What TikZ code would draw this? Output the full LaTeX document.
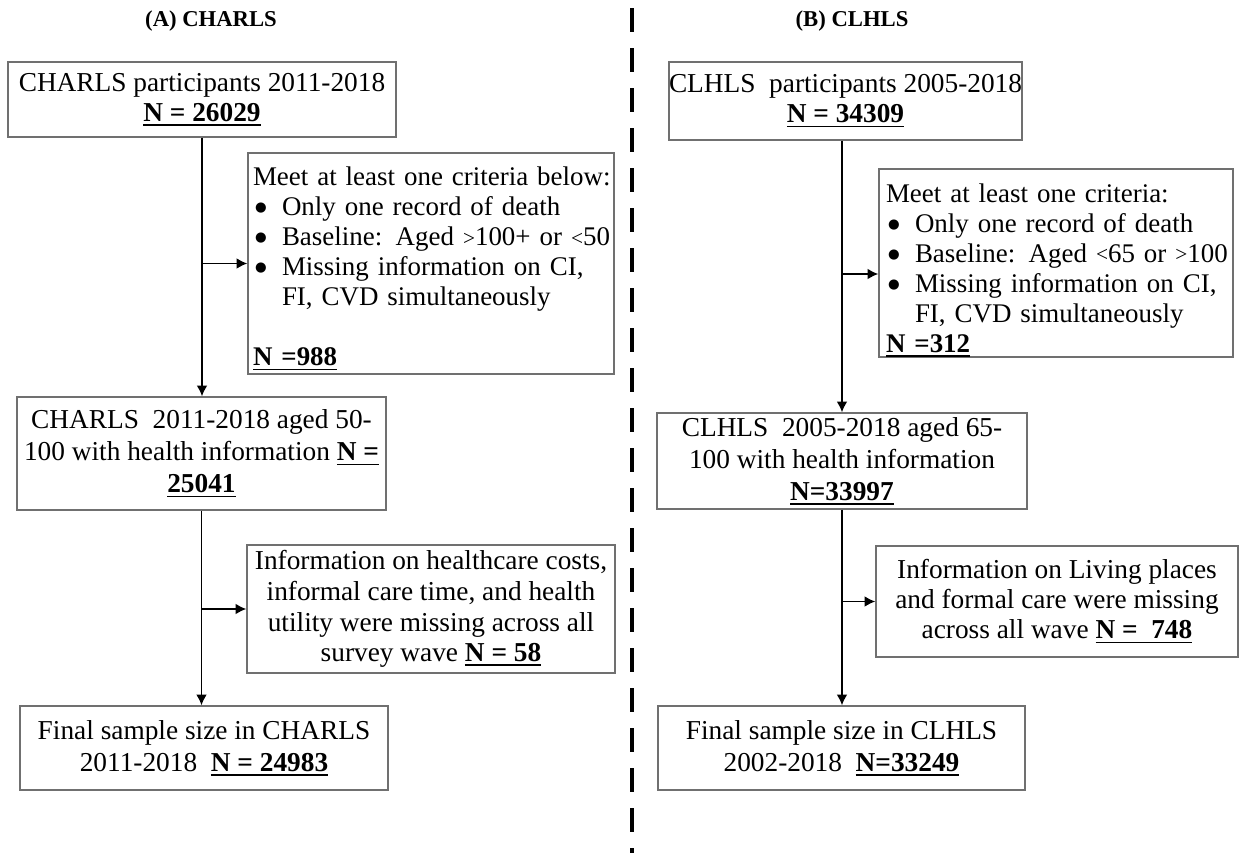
\documentclass[tikz,border=0pt]{standalone}
\usepackage{fontspec}
\setmainfont{Liberation Serif}
\newfontfamily\dejavu{DejaVu Sans}
\usetikzlibrary{arrows.meta}
\definecolor{boxgray}{HTML}{707070}
\newcommand\un[1]{\leavevmode\begingroup\bfseries\setbox0=\hbox{#1}\rlap{\rule[-3.4pt]{\wd0}{1.3pt}}\box0\endgroup}
\newcommand\bul{\raisebox{3pt}{\dejavu\fontsize{10pt}{10pt}\selectfont ●}}
\newcommand\bitem[1]{\mbox{\makebox[21.75pt][l]{\hspace{1.5pt}\bul}#1}}
\newcommand\sm[1]{{\fontsize{16pt}{20pt}\selectfont\raisebox{0.5pt}{#1}}}
\newcommand\fsA{\fontsize{20.5pt}{24pt}\selectfont}
\newcommand\fsB{\fontsize{20.5pt}{22.5pt}\selectfont}
\newcommand\fsC{\fontsize{20.5pt}{23pt}\selectfont}
\newcommand\fsL{\fontsize{20.2pt}{22.5pt}\selectfont}
\begin{document}
\begin{tikzpicture}[x=0.75pt,y=-0.75pt,
  box/.style={draw=boxgray, line width=1.1pt, rectangle, inner sep=0pt, align=center, font=\fsA},
  lbox/.style={box, align=left, font=\fsL},
  conn/.style={draw=black, line width=1.1pt, -{Latex[length=8pt,width=8pt]}},
  title/.style={font=\fontsize{17pt}{20pt}\selectfont\bfseries},
  divider/.style={line width=3pt, dash pattern=on 18pt off 12pt}]
\useasboundingbox (0,0) rectangle (1243,853);

% titles
\node[title] (ta) at (211,21) {(A) CHARLS};
\node[title] (tb) at (852,21) {(B) CLHLS};

% divider
\coordinate (d1) at (632,8);
\coordinate (d2) at (632,853);
\draw[divider] (d1) -- (d2);

% ---- (A) CHARLS ----
\node[box, font=\fsB, minimum width=291pt, minimum height=56.25pt] (a1) at (202,99.5)
  {CHARLS participants 2011-2018\\ \un{N = 26029}};
\node[lbox, text width=267pt, minimum width=274.5pt, minimum height=165.75pt] (a2) at (431,263.5)
  {\mbox{\rule{0pt}{22pt}Meet at least one criteria below:}\\
   \bitem{Only one record of death}\\
   \bitem{Baseline: Aged \sm{>}100+ or \sm{<}50}\\
   \bitem{Missing information on CI,}\\
   \mbox{\hspace{21.75pt}FI, CVD simultaneously}\\
   \mbox{}\\
   \un{N =988}};
\node[box, minimum width=276.75pt, minimum height=84.75pt] (a3) at (201.5,453.5)
  {CHARLS\ \ 2011-2018 aged 50-\\ 100 with health information \un{N =}\\ \un{25041}};
\node[box, font=\fsC, minimum width=276pt, minimum height=96pt] (a4) at (431,609)
  {Information on healthcare costs,\\ informal care time, and health\\ utility were missing across all\\ survey wave \un{N = 58}};
\node[box, minimum width=276pt, minimum height=63pt] (a5) at (204,748)
  {Final sample size in CHARLS\\ 2011-2018\ \ \un{N = 24983}};

\draw[conn] (a1.south) -- (a1.south |- a3.north);
\draw[conn] (a1.south |- a2.west) -- (a2.west);
\draw[conn] (a3.south) -- (a3.south |- a5.north);
\draw[conn] (a3.south |- a4.west) -- (a4.west);

% ---- (B) CLHLS ----
\node[box, font=\fsB, minimum width=260.25pt, minimum height=58.5pt] (b1) at (845.5,101)
  {CLHLS\ \ participants 2005-2018\\ \un{N = 34309}};
\node[lbox, text width=255pt, minimum width=265.5pt, minimum height=135pt] (b2) at (1056,263)
  {\mbox{\rule{0pt}{25pt}Meet at least one criteria:}\\
   \bitem{Only one record of death}\\
   \bitem{Baseline: Aged \sm{<}65 or \sm{>}100}\\
   \bitem{Missing information on CI,}\\
   \mbox{\hspace{21.75pt}FI, CVD simultaneously}\\
   \un{N =312}};
\node[box, minimum width=277.5pt, minimum height=72pt] (b3) at (842,461)
  {CLHLS\ \ 2005-2018 aged 65-\\ 100 with health information\\ \un{N=33997}};
\node[box, font=\fsB, minimum width=271.5pt, minimum height=83.25pt] (b4) at (1057,601.5)
  {Information on Living places\\ and formal care were missing\\ across all wave \un{N =\ \ 748}};
\node[box, minimum width=275.25pt, minimum height=63pt] (b5) at (841.5,748)
  {Final sample size in CLHLS\\ 2002-2018\ \ \un{N=33249}};

\coordinate (bj1) at (842,274);
\draw[conn] (b3.north |- b1.south) -- (b3.north);
\draw[conn] (bj1) -- (bj1 -| b2.west);
\draw[conn] (b3.south) -- (b3.south |- b5.north);
\draw[conn] (b3.south |- b4.west) -- (b4.west);
\end{tikzpicture}
\end{document}
